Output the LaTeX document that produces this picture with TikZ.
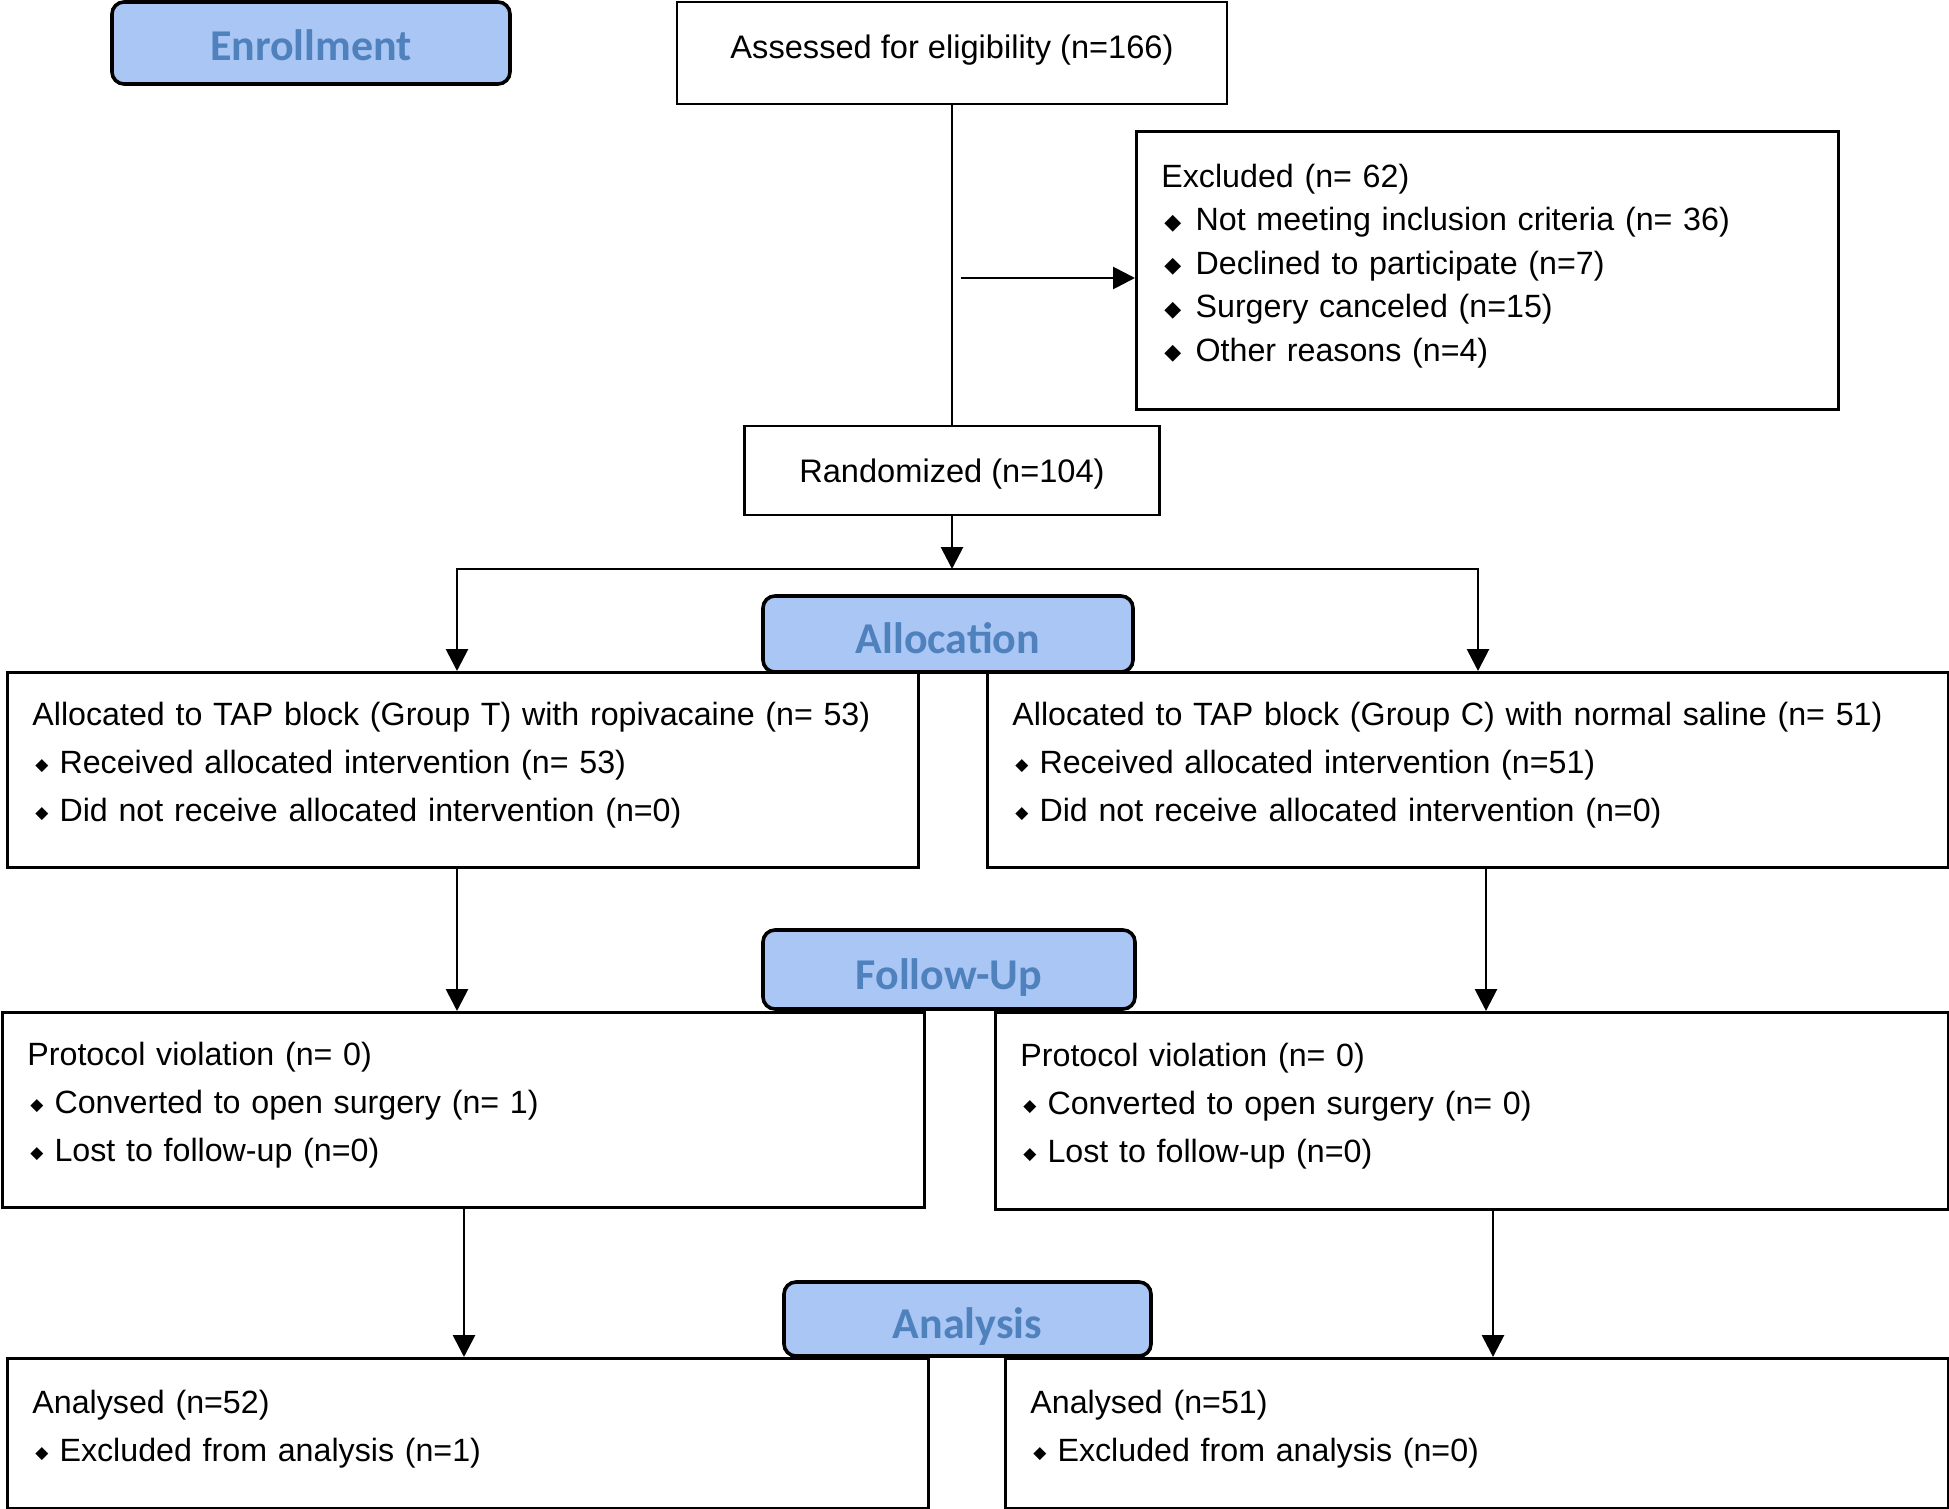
\documentclass[tikz,border=0pt]{standalone}
\usepackage{fontspec}
\setmainfont{Liberation Sans}
\newfontfamily\headfont{Carlito}
\newfontfamily\diafont{DejaVu Sans}
\usetikzlibrary{arrows.meta}
\definecolor{headfill}{RGB}{170,198,245}
\definecolor{headtext}{RGB}{79,129,189}
\newcommand{\bul}[1][8.5]{\hspace*{1.5pt}\raisebox{\dimexpr 4.2pt-#1pt*33/100\relax}{\diafont\fontsize{#1}{#1}\selectfont ◆}\hspace{\dimexpr #1pt*65/100\relax}}
\newcommand{\listgap}{\par\vspace{4.6pt}}

\begin{document}
\begin{tikzpicture}[x=0.5pt,y=-0.5pt,
        box/.style={draw,line width=1.4pt,inner xsep=12.5pt,inner ysep=0pt,font=\fontsize{16.3}{24}\selectfont},
        listbox/.style={box,align=left,font=\fontsize{16.1}{24}\selectfont,execute at end node=\listgap},
        head/.style={draw,line width=1.8pt,rounded corners=6pt,fill=headfill,text=headtext,inner sep=0pt,text height=19.5pt,text depth=0pt,font=\headfont\bfseries\fontsize{22}{26}\selectfont},
        arr/.style={-{Triangle[length=11pt,width=11pt]},line width=1.4pt},
        twoarr/.style={{Triangle[length=11pt,width=11pt]}-{Triangle[length=11pt,width=11pt]},line width=1.4pt}]
            \useasboundingbox (0,0) rectangle (1949,1509);

            \node[box,minimum width=275pt,minimum height=51pt,text height=12pt,text depth=6pt] (assess) at (952,53) {Assessed for eligibility (n=166)};
            \node[listbox,anchor=north west,minimum width=351pt,text width=326pt,minimum height=139pt,font=\fontsize{16.1}{21.75}\selectfont] (excl) at (1135,130)
                {Excluded (n= 62)\\ \bul[11]Not meeting inclusion criteria (n= 36)\\ \bul[11]Declined to participate (n=7)\\ \bul[11]Surgery canceled (n=15)\\ \bul[11]Other reasons (n=4)};
            \node[box,minimum width=207.5pt,minimum height=44.5pt,text height=14pt,text depth=1.8pt] (rand) at (952,470.5) {Randomized (n=104)};

            \node[listbox,anchor=north west,minimum width=455.5pt,text width=430.5pt,minimum height=97.5pt] (allocT) at (6,671)
                {Allocated to TAP block (Group T) with ropivacaine (n= 53)\\ \bul Received allocated intervention (n= 53)\\ \bul Did not receive allocated intervention (n=0)};
            \node[listbox,anchor=north west,minimum width=480.5pt,text width=455.5pt,minimum height=97.5pt] (allocC) at (986,671)
                {Allocated to TAP block (Group C) with normal saline (n= 51)\\ \bul Received allocated intervention (n=51)\\ \bul Did not receive allocated intervention (n=0)};

            \node[listbox,anchor=north west,minimum width=461pt,text width=436pt,minimum height=97.5pt] (followT) at (1,1011)
                {Protocol violation (n= 0)\\ \bul Converted to open surgery (n= 1)\\ \bul Lost to follow-up (n=0)};
            \node[listbox,anchor=north west,minimum width=476.5pt,text width=451.5pt,minimum height=98.5pt] (followC) at (994,1011)
                {Protocol violation (n= 0)\\ \bul Converted to open surgery (n= 0)\\ \bul Lost to follow-up (n=0)};

            \node[listbox,anchor=north west,minimum width=460.5pt,text width=435.5pt,minimum height=75pt] (anaT) at (6,1357)
                {Analysed (n=52)\\ \bul Excluded from analysis (n=1)};
            \node[listbox,anchor=north west,minimum width=471.5pt,text width=446.5pt,minimum height=75pt] (anaC) at (1004,1357)
                {Analysed (n=51)\\ \bul Excluded from analysis (n=0)};

            \node[head,minimum width=199pt,minimum height=41pt,text height=17.5pt] (enroll) at (311,43) {Enrollment};
            \node[head,minimum width=185pt,minimum height=38pt] (allochead) at (948,634) {Allocation};
            \node[head,minimum width=186pt,minimum height=39.5pt] (followhead) at (949,969.5) {Follow-Up};
            \node[head,minimum width=183.5pt,minimum height=37pt] (anahead) at (967.5,1319) {Analysis};

            \coordinate (exclstart) at (961,278);
            \coordinate (split) at (952,569);
            \coordinate (splitL) at (457,569);
            \coordinate (splitR) at (1478,569);
            \coordinate (colT) at (457,0);
            \coordinate (colC) at (1486,0);
            \coordinate (anaColT) at (464,0);
            \coordinate (anaColC) at (1493,0);

            \draw[line width=1.4pt] (assess.south) -- (assess.south |- rand.north);
            \draw[arr] (exclstart) -- (exclstart -| excl.west);
            \draw[arr] (rand.south) -- (split);
            \draw[twoarr] (splitL |- allocT.north) -- (splitL) -- (splitR) -- (splitR |- allocC.north);
            \draw[arr] (allocT.south -| colT) -- (followT.north -| colT);
            \draw[arr] (allocC.south -| colC) -- (followC.north -| colC);
            \draw[arr] (followT.south -| anaColT) -- (anaT.north -| anaColT);
            \draw[arr] (followC.south -| anaColC) -- (anaC.north -| anaColC);
        \end{tikzpicture}
\end{document}
